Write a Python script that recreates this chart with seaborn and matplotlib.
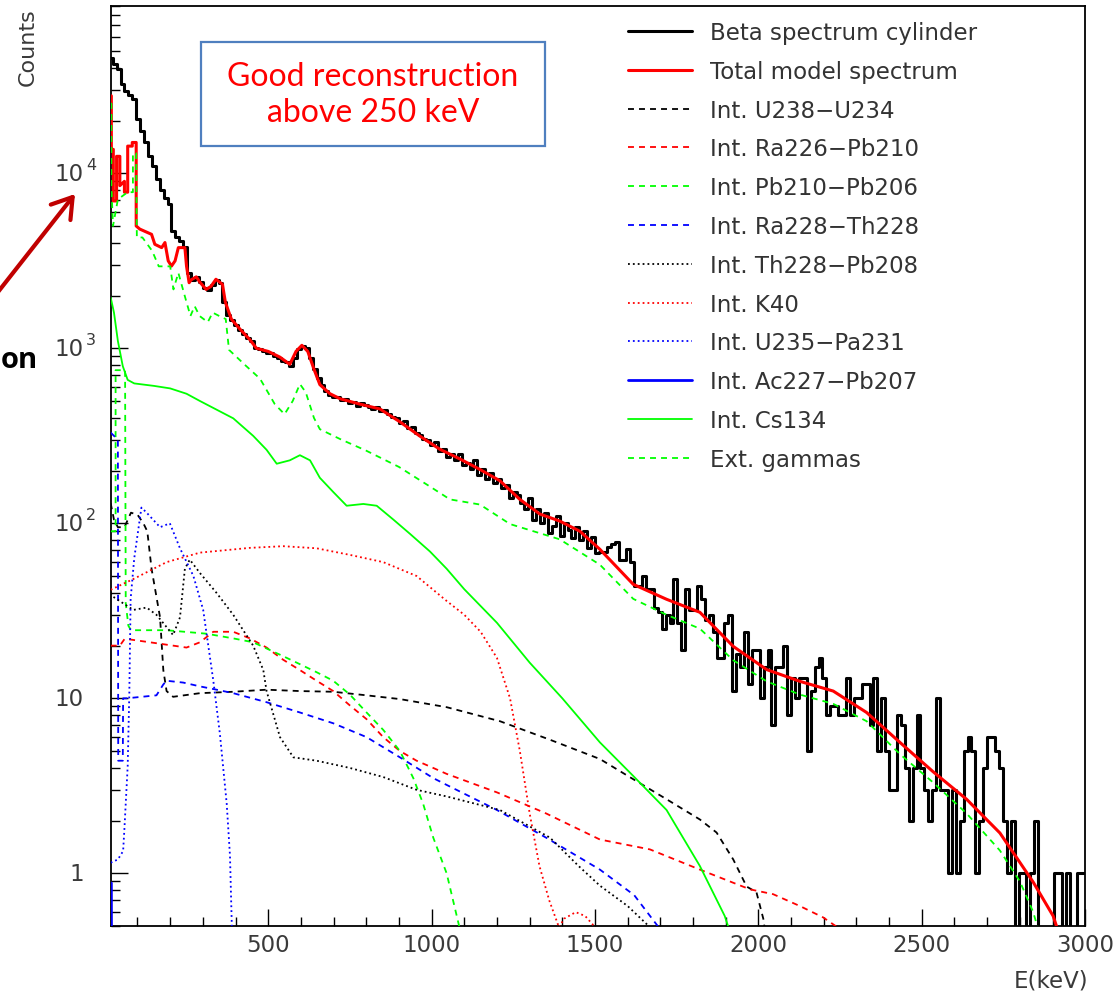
import numpy as np
import matplotlib
matplotlib.use("Agg")
import matplotlib.pyplot as plt
from matplotlib.lines import Line2D
from matplotlib.patches import Rectangle
from matplotlib.ticker import MultipleLocator, LogLocator, NullFormatter
from matplotlib.transforms import blended_transform_factory
import seaborn as sns

# ---------------- data ----------------
# measured beta spectrum, 12 keV bins starting at 0 keV (counts per bin)
bin_width_kev = 12
beta_counts = [
    46000, 45500, 42000, 39500, 32500, 29500, 28000, 26500, 20500, 17500,
    15000, 12500, 11000, 9300, 8000, 7200, 6700, 4700, 4300, 4100,
    3800, 2700, 2450, 2550, 2400, 2200, 2150, 2300, 2450, 2350,
    1850, 1550, 1450, 1350, 1280, 1200, 1150, 1100, 1000, 990,
    960, 940, 935, 900, 880, 850, 830, 790, 880, 990,
    1030, 1000, 880, 760, 680, 620, 570, 540, 525, 530,
    505, 515, 485, 495, 470, 490, 475, 465, 450, 465,
    440, 445, 420, 405, 400, 375, 385, 350, 355, 330,
    320, 305, 300, 280, 290, 260, 265, 240, 250, 230,
    250, 215, 220, 205, 230, 190, 205, 180, 195, 170,
    180, 160, 165, 140, 150, 145, 130, 120, 140, 105,
    120, 100, 115, 88, 96, 110, 85, 100, 92, 82,
    95, 80, 90, 72, 84, 68, 69, 69, 73, 76,
    78, 62, 62, 71, 60, 44, 44, 50, 42, 42,
    33, 31, 25, 30, 27, 48, 27, 19, 42, 32,
    32, 44, 37, 28, 30, 24, 17, 17, 27, 30,
    11, 18, 15, 24, 12, 19, 19, 10, 15, 19,
    7, 15, 15, 20, 8, 13, 10, 13, 13, 5,
    11, 15, 17, 13, 8, 9, 9, 8, 8, 13,
    8, 10, 10, 12, 12, 7, 13, 5, 10, 5,
    3, 3, 8, 7, 4, 2, 4, 8, 4, 3,
    2, 3, 10, 3, 3, 1, 3, 1, 2, 5,
    6, 5, 1, 2, 4, 6, 6, 5, 4, 2,
    1, 2, 0, 1, 1, 0, 1, 2, 0, 0,
    0, 0, 1, 1, 0, 1, 0, 0, 1, 1,
]

# total model spectrum (energy in keV, counts)
total_e = [18, 20, 20, 26, 26, 36, 36, 46, 46, 60, 60, 70, 70, 84, 84, 96, 96, 107, 143, 153,
           174, 184, 194, 204, 215, 225, 245, 250, 258, 264, 280, 290, 310, 325, 340, 360, 369, 387, 413, 444,
           464, 500, 536, 566, 585, 603, 621, 640, 658, 689, 720, 780, 842, 903, 964, 1025, 1087, 1148, 1209, 1270,
           1331, 1392, 1454, 1515, 1617, 1719, 1821, 1923, 2025, 2127, 2229, 2331, 2433, 2535, 2637, 2739, 2841, 2902, 2920]
total_y = [27700, 27700, 13700, 13700, 6950, 6950, 12500, 12500, 8500, 9000, 7800, 7800, 14300, 14300, 15000, 15000, 5000, 4800, 4480, 3930,
           3760, 4020, 3160, 2950, 3160, 3760, 3760, 2950, 2370, 2460, 2560, 2400, 2170, 2260, 2480, 2320, 1830, 1470, 1290, 1120,
           1000, 960, 890, 810, 960, 1040, 960, 760, 620, 550, 515, 480, 450, 380, 315, 265, 233, 203, 175, 137,
           113, 103, 90, 71, 44.8, 36.8, 31, 19.8, 14.6, 12.5, 11, 8.3, 5.6, 3.8, 2.65, 1.7, 0.89, 0.57, 0.45]

# internal contaminations
u238_e = [18, 28, 40, 60, 80, 100, 118, 130, 143, 169, 179, 189, 209, 291, 393, 495, 597, 699, 801, 903,
          1046, 1209, 1362, 1515, 1617, 1719, 1821, 1872, 1923, 1964, 1994, 2015, 2035]
u238_y = [130, 105, 95, 95, 115, 112, 100, 90, 55, 29, 14.5, 11, 10.2, 10.7, 10.9, 11.2, 11, 10.9, 10.4, 9.9,
          8.9, 7.4, 5.8, 4.5, 3.45, 2.65, 2.03, 1.71, 1.2, 0.84, 0.78, 0.55, 0.3]

ra226_e = [18, 46, 61, 138, 209, 250, 291, 332, 393, 444, 495, 546, 597, 648, 699, 750, 801, 852, 903, 954,
           1005, 1046, 1200, 1350, 1515, 1668, 1821, 1974, 2045, 2127, 2198, 2250]
ra226_y = [20, 20, 21.9, 20.9, 20, 19.5, 20.9, 24, 24, 22, 19.5, 16.6, 14.5, 12.6, 11, 9.1, 7.6, 6.0, 5.0, 4.4,
           4.0, 3.7, 2.9, 2.2, 1.56, 1.37, 1.05, 0.81, 0.76, 0.65, 0.56, 0.48]

pb210_e = [18, 33, 33, 62, 64, 72, 80, 189, 311, 393, 454, 546, 648, 699, 750, 801, 852, 903, 944, 974,
           1005, 1046, 1090]
pb210_y = [90, 90, 750, 750, 35, 26, 24.5, 24.5, 23.4, 22, 20.9, 17.4, 14.1, 12.6, 10.5, 8.3, 6.6, 5.0, 3.5, 2.5,
           1.6, 1.0, 0.45]

ra228_e = [18, 40, 41, 55, 56, 67, 158, 179, 189, 240, 291, 342, 393, 495, 597, 699, 801, 903, 1005, 1046,
           1200, 1350, 1515, 1620, 1699]
ra228_y = [330, 300, 4.4, 4.4, 10, 10, 10.4, 12, 12.6, 12.3, 11.7, 11.2, 10.7, 9.5, 8.3, 7.2, 6.0, 4.6, 3.5, 3.2,
           2.3, 1.6, 1.05, 0.75, 0.48]

th228_e = [18, 26, 87, 128, 158, 209, 230, 245, 260, 291, 342, 393, 454, 485, 495, 536, 577, 648, 750, 852,
           954, 1046, 1209, 1362, 1450, 1515, 1600, 1690]
th228_y = [40, 38, 32, 33, 30, 23, 29, 55, 62, 52, 40, 30, 20, 14.5, 11, 6.0, 4.6, 4.4, 4.0, 3.55,
           3.0, 2.75, 2.3, 1.6, 1.1, 0.85, 0.65, 0.45]

k40_e = [18, 87, 189, 291, 444, 546, 648, 750, 852, 954, 1046, 1100, 1150, 1200, 1240, 1270, 1300, 1330, 1360, 1390,
         1405, 1441, 1470, 1497, 1502]
k40_y = [41.7, 48, 60, 68, 72.4, 74, 72, 66, 60, 50, 36, 30, 24, 17, 10, 5, 2.2, 1.1, 0.7, 0.49,
         0.55, 0.6, 0.57, 0.5, 0.4]

u235_e = [18, 40, 56, 60, 70, 75, 79, 90, 112, 128, 169, 199, 230, 271, 301, 332, 352, 373, 383, 390]
u235_y = [1.15, 1.2, 1.34, 1.8, 4.1, 10.8, 37, 63, 123, 115, 95, 100, 72, 50, 32, 12.6, 6.3, 2.5, 1.26, 0.4]

ac227_e = [18, 20, 20.5]
ac227_y = [0.88, 0.88, 0.3]

cs134_e = [18, 28, 40, 55, 70, 90, 150, 200, 250, 291, 393, 454, 495, 526, 566, 597, 628, 658, 699, 740,
           791, 832, 883, 934, 995, 1046, 1100, 1200, 1300, 1400, 1515, 1617, 1719, 1821, 1897, 1915]
cs134_y = [1950, 1600, 1100, 790, 660, 630, 610, 590, 550, 500, 398, 316, 263, 219, 229, 245, 229, 182, 151, 126,
           129, 126, 105, 87, 69, 55, 42, 27, 16, 10, 5.6, 3.6, 2.3, 1.1, 0.57, 0.45]

# external gammas
ext_e = [18, 20, 20, 25, 40, 70, 86, 86, 96, 98, 115, 145, 165, 200, 210, 225, 245, 262, 275, 290,
         315, 330, 350, 370, 380, 430, 475, 520, 550, 575, 597, 615, 640, 658, 720, 800, 900, 1000, 1056, 1148,
         1240, 1392, 1515, 1617, 1719, 1821, 1923, 2025, 2127, 2229, 2331, 2433, 2535, 2637, 2739, 2800, 2841, 2860]
ext_y = [25000, 25000, 8500, 5000, 7100, 7800, 7800, 13000, 13000, 4300, 4300, 3600, 2940, 2940, 2170, 2700, 1980, 1530, 1740, 1530,
         1410, 1600, 1530, 1470, 980, 800, 670, 480, 420, 500, 625, 560, 400, 345, 303, 260, 210, 160, 137, 128,
         99, 81, 58, 37, 30, 25, 16.5, 12.5, 10.5, 9.3, 7.4, 4.8, 3.3, 2.2, 1.35, 0.9, 0.6, 0.45]

legend_labels = [
    "Beta spectrum cylinder", "Total model spectrum",
    "Int. U238\u2212U234", "Int. Ra226\u2212Pb210", "Int. Pb210\u2212Pb206",
    "Int. Ra228\u2212Th228", "Int. Th228\u2212Pb208", "Int. K40",
    "Int. U235\u2212Pa231", "Int. Ac227\u2212Pb207", "Int. Cs134", "Ext. gammas",
]
y_decades = [0, 1, 2, 3, 4]

# ---------------- styling ----------------
sns.set_theme(style="white")
plt.rcParams["font.family"] = ["DejaVu Sans"]

W, H = 1117, 995
fig = plt.figure(figsize=(W / 100, H / 100), dpi=100, facecolor="white")


def fx(px):
    return px / W


def fy(py):
    return 1 - py / H


ax = fig.add_axes([fx(110.7), fy(927), fx(1085.2) - fx(110.7), fy(7.3) - fy(927)])
ax.set_facecolor("white")
ax.set_yscale("log")

GREEN = "#00ff00"
DASH = (0, (3.3, 2.8))
DOT = (0, (1.0, 1.7))
thin = 1.3

components = [
    # (x, y, color, linestyle, width)
    (u238_e, u238_y, "black", DASH, thin),
    (ra226_e, ra226_y, "red", DASH, thin),
    (pb210_e, pb210_y, GREEN, DASH, thin),
    (ra228_e, ra228_y, "blue", DASH, thin),
    (th228_e, th228_y, "black", DOT, thin),
    (k40_e, k40_y, "red", DOT, thin),
    (u235_e, u235_y, "blue", DOT, thin),
    (ac227_e, ac227_y, "blue", "-", 2.0),
    (cs134_e, cs134_y, GREEN, "-", thin),
    (ext_e, ext_y, GREEN, DASH, thin),
]

# measured spectrum as a step histogram
counts = np.asarray(beta_counts, dtype=float)
edges = np.arange(len(counts) + 1) * bin_width_kev
step_y = np.append(counts, counts[-1])
step_y = np.where(step_y > 0, step_y, 1e-3)
sns.lineplot(x=edges, y=step_y, ax=ax, color="black", lw=2.2, drawstyle="steps-post",
             estimator=None, sort=False, zorder=2)

for xs, ys, col, ls, lw in components:
    sns.lineplot(x=xs, y=ys, ax=ax, color=col, lw=lw, linestyle=ls,
                 estimator=None, sort=False, zorder=4)

sns.lineplot(x=total_e, y=total_y, ax=ax, color="red", lw=2.2,
             estimator=None, sort=False, zorder=3)

ax.set_xlim(18, 3000)
ax.set_ylim(0.5, 9e4)

# axes and ticks
for s in ax.spines.values():
    s.set_visible(True)
    s.set_color("black")
    s.set_linewidth(1.3)
ax.xaxis.set_major_locator(MultipleLocator(500))
ax.xaxis.set_minor_locator(MultipleLocator(100))
ax.yaxis.set_major_locator(LogLocator(base=10))
ax.yaxis.set_minor_locator(LogLocator(base=10, subs=np.arange(2, 10)))
ax.yaxis.set_major_formatter(NullFormatter())
ax.yaxis.set_minor_formatter(NullFormatter())
ax.tick_params(which="both", direction="in", top=False, right=False, left=True, bottom=True,
               color="black", width=1.0)
ax.tick_params(which="major", length=12.5)
ax.tick_params(which="minor", length=6.5)
ax.tick_params(axis="x", which="major", labelsize=16.5, labelcolor="#3a3a3a", pad=5)
ax.set_xlabel("")
ax.set_ylabel("")

# y tick labels in "10 ^n" form
TICK_COL = "#3a3a3a"
ytrans = blended_transform_factory(fig.transFigure, ax.transData)
for d in y_decades:
    base = "1" if d == 0 else "10"
    ax.text(fx(84), 10.0 ** d, base, transform=ytrans, ha="right", va="center",
            fontsize=16.5, color=TICK_COL, clip_on=False)
    if d >= 2:
        ax.annotate(str(d), xy=(fx(86), 10.0 ** d), xycoords=ytrans, xytext=(0, 6),
                    textcoords="offset points", ha="left", va="center",
                    fontsize=11.5, color=TICK_COL, annotation_clip=False)

fig.text(fx(28), fy(8), "Counts", rotation=90, ha="center", va="top", fontsize=16, color=TICK_COL)
fig.text(fx(1088), fy(981), "E(keV)", ha="right", va="center", fontsize=16.5, color=TICK_COL)

# legend
styles = [("black", "-", 2.2), ("red", "-", 2.2)] + [(c[2], c[3], c[4]) for c in components]
handles = [Line2D([], [], color=c, linestyle=ls, lw=lw) for c, ls, lw in styles]
leg = ax.legend(handles, legend_labels, loc="upper left",
                bbox_to_anchor=(fx(628), fy(22)), bbox_transform=fig.transFigure,
                frameon=False, fontsize=16.5, handlelength=2.8, handletextpad=0.8,
                labelspacing=0.69, borderpad=0, borderaxespad=0)
for t in leg.get_texts():
    t.set_color("#333333")

# annotation box
fig.add_artist(Rectangle((fx(200.5), fy(147)), fx(545) - fx(200.5), fy(42.5) - fy(147),
                         transform=fig.transFigure, facecolor="white", edgecolor="#4f7fbf", lw=1.6))
fig.text(fx(373), fy(95), "Good reconstruction\nabove 250 keV", ha="center", va="center",
         color="#ff0000", fontsize=23, family=["Lato", "DejaVu Sans"], linespacing=1.22)

# arrow pointing at the low-energy region
ax.annotate("", xy=(fx(75), fy(195)), xycoords="figure fraction",
            xytext=(fx(-2), fy(293)), textcoords="figure fraction",
            arrowprops=dict(arrowstyle="->,head_length=0.7,head_width=0.45", color="#c00000",
                            lw=3, mutation_scale=20, shrinkA=0, shrinkB=0),
            annotation_clip=False)
fig.text(fx(1), fy(368), "on", ha="left", va="baseline", fontsize=21, fontweight="bold",
         color="black", family=["Open Sans", "DejaVu Sans"])

fig.savefig("out.png", dpi=100, facecolor="white")
